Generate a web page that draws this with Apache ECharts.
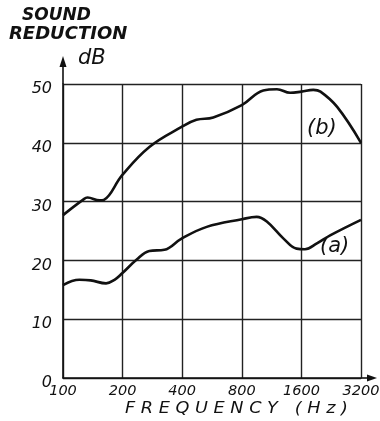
<!DOCTYPE html>
<html><head><meta charset="utf-8">
<script src="https://cdn.jsdelivr.net/npm/echarts@6/dist/echarts.min.js"></script>
<style>html,body{margin:0;padding:0;background:#fff}#c{width:380px;height:421px}</style>
</head><body><div id="c"></div>
<script>
// frequencies in Hz (log-spaced x axis, octaves from 100 Hz)
const freqB = [100, 126, 133, 153, 161, 199, 273, 397, 472, 574, 800, 1027, 1204, 1404, 1600, 1838, 1997, 2425, 3200];
const dbB   = [27.7, 30.3, 30.7, 30.2, 30.3, 34.5, 39.3, 42.7, 43.9, 44.3, 46.4, 48.9, 49.1, 48.5, 48.7, 49.0, 48.7, 46.1, 40.0];
const freqA = [100, 121, 138, 165, 182, 199, 235, 273, 325, 397, 532, 800, 951, 1070, 1300, 1513, 1668, 1916, 2247, 3200];
const dbA   = [15.8, 16.7, 16.6, 16.1, 16.7, 17.8, 20.1, 21.6, 21.8, 23.7, 25.7, 27.0, 27.4, 26.6, 23.7, 22.0, 21.9, 22.9, 24.3, 26.9];
const xTicks = [100, 200, 400, 800, 1600, 3200];
const yTicks = [0, 10, 20, 30, 40, 50];

const oct = f => Math.log2(f / 100);
const font = 'DejaVu Sans';
const chart = echarts.init(document.getElementById('c'), null, {renderer: 'canvas'});
chart.setOption({
  animation: false,
  backgroundColor: '#fff',
  grid: {left: 63, right: 19, top: 84, bottom: 43, containLabel: false, outerBoundsMode: 'none'},
  xAxis: {
    type: 'value', min: 0, max: 5, interval: 1,
    axisLine: {show: true, lineStyle: {color: '#111', width: 1.6}},
    axisTick: {show: false},
    splitLine: {show: true, lineStyle: {color: '#222', width: 1.4}},
    axisLabel: {
      formatter: v => String(xTicks[Math.round(v)]),
      color: '#111', fontFamily: font, fontStyle: 'italic', fontSize: 14.5, margin: 6
    }
  },
  yAxis: {
    type: 'value', min: 0, max: 50, interval: 10,
    axisLine: {show: true, lineStyle: {color: '#111', width: 1.6}},
    axisTick: {show: false},
    splitLine: {show: true, lineStyle: {color: '#222', width: 1.4}},
    axisLabel: {
      formatter: v => String(yTicks[Math.round(v / 10)]),
      color: '#111', fontFamily: font, fontStyle: 'italic', fontSize: 16, margin: 11,
      verticalAlign: 'top', padding: [-3, 0, 0, 0]
    }
  },
  series: [
    {type: 'line', smooth: 0.4, symbol: 'none', data: freqB.map((f, i) => [oct(f), dbB[i]]),
     lineStyle: {color: '#111', width: 2.6}},
    {type: 'line', smooth: 0.4, symbol: 'none', data: freqA.map((f, i) => [oct(f), dbA[i]]),
     lineStyle: {color: '#111', width: 2.6}}
  ],
  graphic: [
    {type: 'line', shape: {x1: 63, y1: 84, x2: 63, y2: 60}, style: {stroke: '#111', lineWidth: 1.6}},
    {type: 'polygon', shape: {points: [[63, 56], [59.5, 67], [66.5, 67]]}, style: {fill: '#111'}},
    {type: 'line', shape: {x1: 361, y1: 378, x2: 372, y2: 378}, style: {stroke: '#111', lineWidth: 1.6}},
    {type: 'polygon', shape: {points: [[377, 378], [367, 374.5], [367, 381.5]]}, style: {fill: '#111'}},
    {type: 'text', left: 22, top: 7, style: {text: 'SOUND', font: 'italic bold 17px DejaVu Sans', fill: '#111'}},
    {type: 'text', left: 9, top: 25, style: {text: 'REDUCTION', font: 'italic bold 18px DejaVu Sans', fill: '#111'}},
    {type: 'text', left: 78, top: 48, style: {text: 'dB', font: 'italic 21px DejaVu Sans', fill: '#111'}},
    {type: 'text', left: 307, top: 118, style: {text: '(b)', font: 'italic 21px DejaVu Sans', fill: '#111'}},
    {type: 'text', left: 320, top: 236, style: {text: '(a)', font: 'italic 21px DejaVu Sans', fill: '#111'}},
    {type: 'text', x: 125, y: 401, scaleX: 1.14, style: {text: 'F R E Q U E N C Y   ( H z )', font: 'italic 15.5px DejaVu Sans', fill: '#111'}}
  ]
});
</script></body></html>
